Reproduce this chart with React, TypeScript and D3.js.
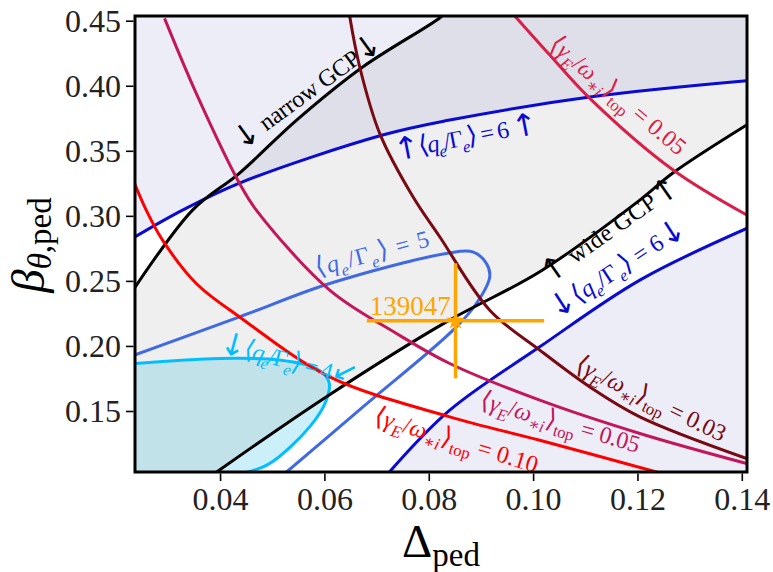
import React from 'react';
import * as d3 from 'd3';

// Figure geometry
const W = 773;
const H = 572;
const PLOT = { left: 135, right: 747, top: 16, bottom: 472 };
const X_DOMAIN: [number, number] = [0.0236, 0.1409];
const Y_DOMAIN: [number, number] = [0.1035, 0.454];
const X_TICKS = [0.04, 0.06, 0.08, 0.1, 0.12, 0.14];
const Y_TICKS = [0.15, 0.2, 0.25, 0.3, 0.35, 0.4, 0.45];

type Pt = [number, number];

// Contour lines (Δ_ped, β_θ,ped)
const narrowGCP: Pt[] = [
  [0.0235, 0.2448], [0.03463, 0.3048], [0.04364, 0.3333], [0.05458, 0.374],
  [0.06724, 0.4148], [0.082, 0.4525], [0.0835, 0.458],
];
const wideGCP: Pt[] = [
  [0.03918, 0.1033], [0.06023, 0.1612], [0.08329, 0.2189], [0.10118, 0.2574],
  [0.12036, 0.3125], [0.12669, 0.3333], [0.14083, 0.3702],
];
const qe6Upper: Pt[] = [
  [0.0235, 0.284], [0.03271, 0.3048], [0.04364, 0.3256], [0.07107, 0.3625],
  [0.08392, 0.374], [0.11077, 0.3917], [0.14083, 0.4042],
];
const qe6Lower: Pt[] = [
  [0.07232, 0.1033], [0.08392, 0.151], [0.10118, 0.1997], [0.12036, 0.251],
  [0.14083, 0.2907],
];
const qe5: Pt[] = [
  [0.0235, 0.1934], [0.04364, 0.2227], [0.06091, 0.2484], [0.08329, 0.2715],
  [0.08833, 0.2727], [0.09096, 0.2638], [0.09159, 0.2535], [0.08904, 0.233],
  [0.08456, 0.2125], [0.06724, 0.1533], [0.0526, 0.1033],
];
const qe4: Pt[] = [
  [0.0235, 0.1869], [0.03981, 0.1908], [0.05132, 0.1895], [0.05835, 0.1831],
  [0.06077, 0.1728], [0.06027, 0.1587], [0.05707, 0.1382], [0.0494, 0.11],
  [0.04497, 0.1033],
];
const gamma010: Pt[] = [
  [0.0235, 0.3254], [0.02575, 0.3048], [0.02888, 0.2817], [0.03534, 0.2484],
  [0.04364, 0.2227], [0.06091, 0.1766], [0.08392, 0.1459], [0.10118, 0.1279],
  [0.12372, 0.1033],
];
const gamma005: Pt[] = [
  [0.02926, 0.4522], [0.03534, 0.3946], [0.04364, 0.3253], [0.04685, 0.3048],
  [0.06091, 0.2433], [0.07371, 0.21], [0.08392, 0.1869], [0.10118, 0.1587],
  [0.12036, 0.1331], [0.14083, 0.11],
];
const gamma003: Pt[] = [
  [0.06474, 0.454], [0.06666, 0.415], [0.0705, 0.3638], [0.07688, 0.315],
  [0.082, 0.2843], [0.09159, 0.2279], [0.10118, 0.1972], [0.11077, 0.1689],
  [0.12036, 0.1459], [0.14083, 0.1139],
];
const gamma005Top: Pt[] = [
  [0.09639, 0.454], [0.1031, 0.424], [0.11077, 0.3907], [0.12675, 0.3356],
  [0.14088, 0.301],
];

// Shot 139047 with its uncertainty
const shotLabel = '139047';
const shotPoint: Pt = [0.08503, 0.2197];
const shotXErr = 0.017;
const shotYErr = 0.0442;

const COLORS = {
  black: '#000000',
  blue6: '#0a0ad0',
  blue5: '#4169e1',
  blue4: '#00bfff',
  red: '#ff0000',
  crimson: '#c2185b',
  crimsonTop: '#d81f4a',
  maroon: '#780a14',
  orange: '#ffa500',
  lavender: '#ededf8',
  cyanFill: '#ccf0fa',
};

const FONT = "'Liberation Serif', 'DejaVu Serif', serif";
const ARROW_FONT = "'DejaVu Sans', sans-serif";

type Seg = { t: string; it?: boolean; sub?: boolean; arrow?: boolean; big?: boolean };

const qeSegs = (pre: string, post: string, tail: string): Seg[] => {
  const s: Seg[] = [];
  if (pre) s.push({ t: pre, arrow: true });
  s.push(
    { t: '⟨', big: true }, { t: 'q', it: true }, { t: 'e', it: true, sub: true }, { t: '/' },
    { t: 'Γ' }, { t: 'e', it: true, sub: true }, { t: '⟩', big: true }, { t: ' = ' + post },
  );
  if (tail) s.push({ t: tail, arrow: true });
  return s;
};
const gammaSegs = (val: string): Seg[] => [
  { t: '⟨', big: true }, { t: 'γ', it: true }, { t: 'E', it: true, sub: true }, { t: '/' },
  { t: 'ω', it: true }, { t: '∗i', it: true, sub: true }, { t: '⟩', big: true },
  { t: 'top', sub: true }, { t: ' = ' + val },
];
const gcpSegs = (arrow: string, word: string): Seg[] => [
  { t: arrow, arrow: true }, { t: ' ' + word + ' GCP' }, { t: arrow, arrow: true },
];

type Label = { segs: Seg[]; at: Pt; rot: number; color: string; len: number };

const LABELS: Label[] = [
  { segs: gcpSegs('↓', 'narrow'), at: [0.04384, 0.351], rot: -36, color: COLORS.black, len: 176 },
  { segs: qeSegs('↑', '6 ', '↑'), at: [0.07357, 0.344], rot: -11, color: COLORS.blue6, len: 146 },
  { segs: qeSegs('', '5', ''), at: [0.0586, 0.2541], rot: -15, color: COLORS.blue5, len: 117 },
  { segs: qeSegs('↓', '4', ''), at: [0.03962, 0.1972], rot: 15, color: COLORS.blue4, len: 116 },
  { segs: gcpSegs('↑', 'wide'), at: [0.10272, 0.2487], rot: -35, color: COLORS.black, len: 162 },
  { segs: qeSegs('↓', '6', '↓'), at: [0.10425, 0.2218], rot: -33, color: COLORS.blue6, len: 157 },
  { segs: gammaSegs('0.05'), at: [0.10272, 0.4302], rot: 40, color: COLORS.crimsonTop, len: 170 },
  { segs: gammaSegs('0.03'), at: [0.10771, 0.1818], rot: 26, color: COLORS.maroon, len: 164 },
  { segs: gammaSegs('0.05'), at: [0.08948, 0.1533], rot: 16, color: COLORS.crimson, len: 165 },
  { segs: gammaSegs('0.10'), at: [0.06915, 0.141], rot: 17, color: COLORS.red, len: 170 },
];

const LABEL_SIZE = 24;

function MathText({ segs, x, y, rot, size, color, len }: {
  segs: Seg[]; x: number; y: number; rot: number; size: number; color: string; len: number;
}) {
  let shift = 0;
  return (
    <text
      transform={`translate(${x},${y}) rotate(${rot})`}
      fill={color}
      fontSize={size}
      textLength={len}
      lengthAdjust="spacing"
      style={{ whiteSpace: 'pre', fontFamily: FONT }}
    >
      {segs.map((s, i) => {
        const target = s.sub ? size * 0.28 : s.arrow ? size * 0.08 : 0;
        const dy = target - shift;
        shift = target;
        const fs = s.sub ? size * 0.7 : s.arrow ? size * 1.3 : s.big ? size * 1.1 : size;
        return (
          <tspan
            key={i}
            dy={dy}
            fontStyle={s.it ? 'italic' : 'normal'}
            fontSize={fs}
            style={{ fontFamily: s.arrow ? ARROW_FONT : FONT }}
          >
            {s.t}
          </tspan>
        );
      })}
    </text>
  );
}

export default function App() {
  const x = d3.scaleLinear().domain(X_DOMAIN).range([PLOT.left, PLOT.right]);
  const y = d3.scaleLinear().domain(Y_DOMAIN).range([PLOT.bottom, PLOT.top]);
  const line = d3
    .line<Pt>()
    .x((d) => x(d[0]))
    .y((d) => y(d[1]))
    .curve(d3.curveCatmullRom.alpha(0.5));

  const [x0, x1] = X_DOMAIN;
  const [y0, y1] = Y_DOMAIN;
  const pad = 0.01;
  const P = (a: number, b: number) => `L${x(a)},${y(b)}`;

  // q_e/Γ_e > 6 regions
  const lavTop = line(qe6Upper) + P(x1 + pad, qe6Upper[qe6Upper.length - 1][1]) + P(x1 + pad, y1 + pad) + P(x0 - pad, y1 + pad) + P(x0 - pad, qe6Upper[0][1]) + 'Z';
  const lavBottom = line(qe6Lower) + P(x1 + pad, qe6Lower[qe6Lower.length - 1][1]) + P(x1 + pad, y0 - pad) + P(qe6Lower[0][0], y0 - pad) + 'Z';
  // q_e/Γ_e < 4 region
  const cyanRegion = line(qe4) + P(qe4[qe4.length - 1][0], y0 - pad) + P(x0 - pad, y0 - pad) + P(x0 - pad, qe4[0][1]) + 'Z';
  // between narrow and wide GCP boundaries
  const wideRev = [...wideGCP].reverse();
  const gcpBand =
    line(narrowGCP) +
    P(x1 + pad, y1 + pad) +
    P(x1 + pad, wideGCP[wideGCP.length - 1][1]) +
    (line(wideRev) as string).replace(/^M/, 'L') +
    P(wideGCP[0][0], y0 - pad) +
    P(x0 - pad, y0 - pad) +
    P(x0 - pad, narrowGCP[0][1]) +
    'Z';

  const star = d3.symbol().type(d3.symbolStar).size(110)();
  const [sx, sy] = shotPoint;
  const serif = { fontFamily: FONT };

  return (
    <svg width={W} height={H} style={{ position: 'absolute', left: 0, top: 0, fontFamily: FONT }}>
      <defs>
        <clipPath id="plot-clip">
          <rect x={PLOT.left} y={PLOT.top} width={PLOT.right - PLOT.left} height={PLOT.bottom - PLOT.top} />
        </clipPath>
      </defs>
      <rect x={0} y={0} width={W} height={H} fill="#ffffff" />
      <g clipPath="url(#plot-clip)">
        <path d={cyanRegion} fill={COLORS.cyanFill} />
        <path d={lavTop} fill={COLORS.lavender} />
        <path d={lavBottom} fill={COLORS.lavender} />
        <path d={gcpBand} fill="#808080" fillOpacity={0.13} />

        <path d={line(qe4) as string} fill="none" stroke={COLORS.blue4} strokeWidth={3} />
        <path d={line(qe5) as string} fill="none" stroke={COLORS.blue5} strokeWidth={3} />
        <path d={line(qe6Upper) as string} fill="none" stroke={COLORS.blue6} strokeWidth={3} />
        <path d={line(qe6Lower) as string} fill="none" stroke={COLORS.blue6} strokeWidth={3} />
        <path d={line(narrowGCP) as string} fill="none" stroke={COLORS.black} strokeWidth={3} />
        <path d={line(wideGCP) as string} fill="none" stroke={COLORS.black} strokeWidth={3} />
        <path d={line(gamma010) as string} fill="none" stroke={COLORS.red} strokeWidth={3} />
        <path d={line(gamma005) as string} fill="none" stroke={COLORS.crimson} strokeWidth={3} />
        <path d={line(gamma005Top) as string} fill="none" stroke={COLORS.crimsonTop} strokeWidth={3} />
        <path d={line(gamma003) as string} fill="none" stroke={COLORS.maroon} strokeWidth={3} />

        {/* shot marker with error bars */}
        <line x1={x(sx - shotXErr)} x2={x(sx + shotXErr)} y1={y(sy)} y2={y(sy)} stroke={COLORS.orange} strokeWidth={3.5} />
        <line x1={x(sx)} x2={x(sx)} y1={y(sy - shotYErr)} y2={y(sy + shotYErr)} stroke={COLORS.orange} strokeWidth={3.5} />
        <path d={star as string} transform={`translate(${x(sx)},${y(sy)})`} fill={COLORS.orange} />
      </g>

      {/* contour annotations */}
      {LABELS.map((l, i) => (
        <MathText key={i} segs={l.segs} x={x(l.at[0])} y={y(l.at[1])} rot={l.rot} size={LABEL_SIZE} color={l.color} len={l.len} />
      ))}
      <text
        transform={`translate(${x(0.06378)},${y(0.1802)}) rotate(63)`}
        fill={COLORS.blue4}
        fontSize={30}
        textAnchor="middle"
        dy="0.35em"
        style={{ fontFamily: ARROW_FONT }}
      >
        ↓
      </text>
      <text x={x(0.08411)} y={y(0.2241)} fill={COLORS.orange} fontSize={27} textAnchor="end" style={serif}>
        {shotLabel}
      </text>

      {/* axes frame */}
      <rect
        x={PLOT.left}
        y={PLOT.top}
        width={PLOT.right - PLOT.left}
        height={PLOT.bottom - PLOT.top}
        fill="none"
        stroke="#000"
        strokeWidth={3}
      />
      {X_TICKS.map((t) => (
        <g key={'x' + t}>
          <line x1={x(t)} x2={x(t)} y1={PLOT.bottom + 1.5} y2={PLOT.bottom + 9} stroke="#000" strokeWidth={1.6} />
          <text x={x(t)} y={510} textAnchor="middle" fontSize={32} fill="#222" style={serif}>
            {d3.format('.2f')(t)}
          </text>
        </g>
      ))}
      {Y_TICKS.map((t) => (
        <g key={'y' + t}>
          <line x1={PLOT.left - 1.5} x2={PLOT.left - 9} y1={y(t)} y2={y(t)} stroke="#000" strokeWidth={1.6} />
          <text x={121} y={y(t)} dy="0.34em" textAnchor="end" fontSize={32} fill="#222" style={serif}>
            {d3.format('.2f')(t)}
          </text>
        </g>
      ))}

      {/* axis titles */}
      <text x={(PLOT.left + PLOT.right) / 2} y={557} textAnchor="middle" fontSize={47} fill="#000" style={{ whiteSpace: 'pre', fontFamily: FONT }}>
        <tspan>Δ</tspan>
        <tspan dy={9} fontSize={33}>ped</tspan>
      </text>
      <text transform={`translate(44,${(PLOT.top + PLOT.bottom) / 2 + 1}) rotate(-90)`} textAnchor="middle" fontSize={47} fill="#000" style={{ whiteSpace: 'pre', fontFamily: FONT }}>
        <tspan fontStyle="italic">β</tspan>
        <tspan dy={7} fontSize={33} fontStyle="italic">θ</tspan>
        <tspan fontSize={33}>,ped</tspan>
      </text>
    </svg>
  );
}
